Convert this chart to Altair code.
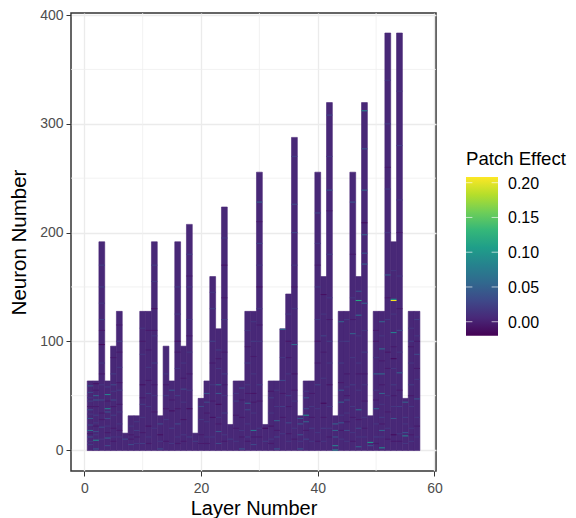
import altair as alt
import pandas as pd

# neurons per layer, layers 1..57
neuron_counts = [64, 64, 192, 64, 96, 128, 16, 32, 32, 128, 128, 192, 32, 96, 64, 192, 96, 208, 16, 48,
                 64, 160, 112, 224, 24, 64, 64, 128, 128, 256, 24, 64, 64, 112, 144, 288, 32, 64, 64, 256,
                 160, 320, 32, 128, 128, 256, 160, 320, 32, 128, 128, 384, 192, 384, 48, 128, 128]
base_value = 0.005

# (layer, neuron, effect) visible streaks
streaks = [
    (1, 59, .04), (1, 53, .03), (1, 37, .03), (1, 29, .04), (1, 23, .03), (1, 18, .06), (1, 12, .03), (1, 5, .02), (1, 45, .02),
    (2, 61, -.01), (2, 50, .05), (2, 46, .04), (2, 17, .03), (2, 9, .09), (2, 1, .04), (2, 32, .02), (2, 40, -.005),
    (3, 46, .03), (3, 21, .03), (3, 34, -.005), (3, 97, -.015), (3, 150, .02), (3, 120, .02), (3, 170, .02),
    (4, 51, .08), (4, 38, .08), (4, 35, .04), (4, 29, .03), (4, 11, .05), (4, 4, .03), (4, 58, .02),
    (5, 60, .03), (5, 46, .03), (5, 32, .02), (5, 20, -.005), (5, 70, .02), (5, 85, -.005),
    (6, 55, .02), (6, 42, -.005), (6, 24, .015), (6, 100, .02), (6, 115, -.005), (7, 10, .03), (8, 5, .03), (8, 14, -.005),
    (9, 18, .02), (10, 6, .02), (10, 60, -.01), (10, 42, .02), (11, 52, .02), (11, 22, -.01), (11, 110, -.005),
    (12, 170, .02), (12, 130, -.01), (12, 80, .02), (12, 20, .015), (13, 24, .03), (13, 14, -.012), (13, 1, .03),
    (14, 50, .02), (14, 8, -.005), (15, 55, .04), (15, 36, -.012), (15, 20, .02), (16, 24, .03), (16, 50, .02), (16, 150, .02), (16, 100, -.01),
    (17, 56, .03), (17, 28, -.008), (18, 38, -.012), (18, 12, .02), (18, 180, .02), (18, 120, .015), (19, 8, .02), (20, 40, .03), (20, 14, -.005),
    (21, 52, .04), (21, 44, .03), (21, 26, .015), (22, 100, .025), (22, 130, .02), (22, 30, -.01),
    (23, 60, .05), (23, 52, .04), (23, 42, -.012), (23, 17, .04), (23, 6, .03), (23, 92, .02),
    (24, 34, .02), (24, 170, -.01), (24, 70, .02), (25, 10, .02), (26, 20, -.005), (26, 45, .02), (27, 57, .03), (27, 1, .04), (27, 30, -.005),
    (28, 43, .05), (28, 37, .03), (28, 12, .02), (28, 80, .02), (29, 18, .07), (29, 5, .03), (29, 52, -.008), (29, 100, .02),
    (30, 228, .05), (30, 190, .025), (30, 60, .02), (30, 150, -.01), (31, 20, -.015), (31, 8, .02),
    (32, 48, .02), (32, 22, -.008), (33, 27, .05), (33, 1, .04), (33, 12, .025), (34, 64, .03), (34, 111, .06), (34, 40, .02),
    (35, 50, .02), (35, 25, .03), (35, 100, -.008), (36, 97, .06), (36, 226, .03), (36, 200, .025), (36, 70, -.008), (36, 270, .02),
    (37, 29, .04), (37, 24, .04), (37, 14, .035), (37, 1, .04), (38, 32, .09), (38, 26, .05), (38, 48, .04), (38, 38, .03), (38, 10, .025),
    (39, 20, .02), (39, 52, -.005), (40, 218, .03), (40, 150, .02), (40, 60, .025), (40, 100, -.008),
    (41, 143, -.012), (41, 43, -.015), (41, 20, .02), (41, 105, .025), (42, 239, .04), (42, 308, .03), (42, 100, .02), (42, 60, -.008), (42, 180, .02),
    (43, 24, .05), (43, 18, .05), (43, 12, .04), (43, 4, .08), (43, 0, .09), (44, 118, .05), (44, 55, .04), (44, 44, .05), (44, 25, .04), (44, 80, .02),
    (45, 46, .03), (45, 18, .03), (45, 70, -.005), (45, 100, .02), (46, 228, .04), (46, 107, .05), (46, 60, .02), (46, 180, -.005),
    (47, 146, .04), (47, 137.5, .12), (47, 124, .06), (47, 37, .06), (47, 3, .05), (47, 20, .03),
    (48, 312, .08), (48, 277, .04), (48, 239, .05), (48, 209, -.015), (48, 198, .05), (48, 181, .04), (48, 171, .05), (48, 135, .05), (48, 90, .02),
    (49, 7, .1), (49, 4, .04), (50, 70, .05), (50, 38, .05), (50, 12, .02), (50, 100, -.008),
    (51, 118, .05), (51, 93, .06), (51, 70, .06), (51, 52, .05), (51, 18, .05), (51, 2, .09), (51, 30, .02),
    (52, 161, .05), (52, 300, .02), (52, 240, .02), (52, 90, -.008), (53, 137.5, .205), (53, 138.6, .1), (53, 108, .08), (53, 84, -.015), (53, 29, .04), (53, 14, -.015), (53, 60, .02),
    (54, 71, .05), (54, 110, .03), (54, 280, .02), (54, 40, .02), (55, 44, .05), (55, 16, .04), (55, 13, .08), (55, 30, .02),
    (56, 100, .02), (56, 60, .02), (56, 20, .015), (57, 47, .04), (57, 88, .03), (57, 120, .02),
]

# fainter rows seen across the bars: (layer, neuron) slightly lighter / slightly darker than the base
faint_light = [
    (1, 48), (1, 33), (1, 8), (2, 25), (2, 14), (3, 60), (3, 10), (3, 80), (3, 135), (4, 22), (5, 12), (5, 54), (6, 12), (6, 35), (6, 76),
    (8, 22), (9, 6), (9, 26), (10, 30), (10, 88), (10, 112), (11, 12), (11, 40), (11, 76), (12, 50), (12, 105), (12, 155), (13, 8),
    (14, 28), (14, 70), (15, 6), (16, 12), (16, 75), (16, 125), (17, 14), (17, 44), (17, 80), (18, 55), (18, 90), (18, 150), (20, 28),
    (21, 12), (22, 12), (22, 60), (22, 145), (23, 30), (23, 75), (24, 14), (24, 50), (24, 120), (24, 195), (26, 8), (26, 52), (27, 18),
    (28, 24), (28, 60), (28, 110), (29, 34), (29, 70), (29, 118), (30, 20), (30, 100), (30, 130), (30, 170), (32, 10), (32, 34), (33, 40), (33, 55),
    (34, 15), (34, 85), (35, 8), (35, 70), (35, 125), (36, 20), (36, 45), (36, 130), (36, 170), (37, 8), (38, 54), (39, 8), (39, 40),
    (40, 16), (40, 38), (40, 120), (40, 190), (41, 8), (41, 66), (41, 125), (42, 20), (42, 40), (42, 80), (42, 140), (42, 270),
    (44, 10), (44, 32), (44, 100), (45, 8), (45, 34), (45, 58), (45, 120), (46, 16), (46, 40), (46, 85), (46, 140), (47, 12), (47, 55), (47, 80), (47, 105),
    (48, 12), (48, 30), (48, 60), (48, 110), (50, 24), (50, 55), (50, 85), (51, 12), (51, 42), (51, 105), (52, 20), (52, 50), (52, 120), (52, 200), (52, 340),
    (53, 40), (53, 75), (53, 125), (53, 165), (54, 15), (54, 90), (54, 160), (54, 230), (54, 330), (55, 6), (55, 24), (56, 8), (56, 40), (56, 80), (56, 112),
    (57, 12), (57, 30), (57, 65), (57, 105),
]
faint_dark = [
    (1, 40), (1, 15), (2, 55), (2, 22), (3, 28), (3, 70), (3, 110), (4, 45), (4, 16), (5, 40), (5, 8), (6, 62), (6, 18), (6, 90),
    (8, 10), (9, 12), (10, 16), (10, 48), (10, 100), (11, 6), (11, 64), (11, 92), (12, 35), (12, 60), (12, 110), (14, 38), (14, 60), (15, 46),
    (16, 6), (16, 38), (16, 90), (17, 8), (17, 66), (18, 70), (18, 105), (18, 160), (20, 6), (21, 34), (21, 6), (22, 45), (22, 80), (23, 24), (23, 84),
    (24, 8), (24, 60), (24, 90), (24, 140), (26, 32), (27, 12), (27, 46), (28, 8), (28, 52), (28, 95), (29, 12), (29, 44), (29, 86), (30, 12), (30, 45), (30, 115), (30, 210),
    (32, 6), (32, 54), (33, 18), (34, 30), (34, 52), (35, 15), (35, 40), (35, 85), (36, 10), (36, 55), (36, 150), (38, 18), (39, 30), (40, 8), (40, 80), (40, 170),
    (41, 30), (41, 90), (42, 12), (42, 120), (42, 220), (44, 18), (44, 62), (45, 26), (45, 50), (46, 8), (46, 30), (46, 120), (47, 28), (47, 70), (48, 20), (48, 45), (48, 70),
    (50, 6), (50, 46), (50, 110), (51, 24), (51, 60), (51, 82), (52, 10), (52, 35), (52, 75), (52, 140), (52, 260), (53, 8), (53, 50), (53, 95), (54, 8), (54, 55), (54, 130), (54, 200),
    (56, 14), (56, 50), (56, 95), (57, 22), (57, 75), (57, 100),
]
light_value = 0.016
dark_value = -0.005

x_major = [0, 20, 40, 60]
x_minor = [10, 30, 50]
y_major = [0, 100, 200, 300, 400]
y_minor = [50, 150, 250, 350]
legend_title = "Patch Effect"
legend_values = [0.0, 0.05, 0.10, 0.15, 0.20]
color_domain = [-0.0201, 0.2082]
viridis_stops = ["#440154", "#482878", "#3e4989", "#31688e", "#26828e", "#1f9e89", "#35b779", "#6ece58", "#b5de2b", "#fde725"]

layers = list(range(1, len(neuron_counts) + 1))
base = pd.DataFrame({
    "x0": [l - .5 for l in layers], "x1": [l + .5 for l in layers],
    "y0": [-.5] * len(layers), "y1": [n - .5 for n in neuron_counts],
    "v": [base_value] * len(layers),
})
rows = [(l, n, dark_value) for l, n in faint_dark] + [(l, n, light_value) for l, n in faint_light] + streaks
cells = pd.DataFrame({
    "x0": [s[0] - .5 for s in rows], "x1": [s[0] + .5 for s in rows],
    "y0": [s[1] - .5 for s in rows], "y1": [s[1] + .5 for s in rows],
    "v": [s[2] for s in rows],
})

xs = alt.Scale(domain=[-2.28, 60.26], nice=False, zero=False)
ys = alt.Scale(domain=[-19.3, 401.9], nice=False, zero=False)
cs = alt.Scale(scheme="viridis", domain=color_domain, nice=False)

x_axis = alt.Axis(values=x_major, title="Layer Number", grid=True, gridColor="#EBEBEB", gridWidth=1.3,
                  domain=False, tickColor="#333333", tickSize=5, labelColor="#4D4D4D", labelFontSize=14,
                  labelFont="Liberation Sans", titleFont="Liberation Sans", titleFontSize=20, titleColor="black",
                  titleFontWeight="normal", labelPadding=5, titlePadding=3, format="d")
y_axis = alt.Axis(values=y_major, title="Neuron Number", grid=True, gridColor="#EBEBEB", gridWidth=1.3,
                  domain=False, tickColor="#333333", tickSize=5, labelColor="#4D4D4D", labelFontSize=14,
                  labelFont="Liberation Sans", titleFont="Liberation Sans", titleFontSize=20.5, titleColor="black",
                  titleFontWeight="normal", labelPadding=3, titlePadding=10, format="d")


def rects(df, **kw):
    return alt.Chart(df).mark_rect(**kw).encode(
        x=alt.X("x0:Q", scale=xs, axis=x_axis), x2="x1:Q",
        y=alt.Y("y0:Q", scale=ys, axis=y_axis), y2="y1:Q",
        color=alt.Color("v:Q", scale=cs, legend=None),
    )


minor_x = alt.Chart(pd.DataFrame({"m": x_minor})).mark_rule(color="#EFEFEF", strokeWidth=0.8).encode(
    x=alt.X("m:Q", scale=xs, axis=x_axis))
minor_y = alt.Chart(pd.DataFrame({"m": y_minor})).mark_rule(color="#EFEFEF", strokeWidth=0.8).encode(
    y=alt.Y("m:Q", scale=ys, axis=y_axis))

# legend drawn with the same colour domain, so that it can carry ggplot's white inner ticks
ls = alt.Scale(domain=color_domain, range=[322.7, 164], nice=False, zero=False)
bar_df = pd.DataFrame({"t": [color_domain[0]], "t2": [color_domain[1]]})
tick_df = pd.DataFrame({"t": legend_values, "label": [f"{v:.2f}" for v in legend_values]})
gradient = alt.LinearGradient(
    gradient="linear", x1=0, x2=0, y1=1, y2=0,
    stops=[alt.GradientStop(color=c, offset=i / (len(viridis_stops) - 1)) for i, c in enumerate(viridis_stops)],
)
bar = alt.Chart(bar_df).mark_rect(color=gradient).encode(
    x=alt.value(395), x2=alt.value(427), y=alt.Y("t:Q", scale=ls, axis=None), y2="t2:Q")
tick_left = alt.Chart(tick_df).mark_rule(color="white", strokeWidth=0.8, opacity=.8).encode(
    x=alt.value(395), x2=alt.value(401.4), y=alt.Y("t:Q", scale=ls, axis=None))
tick_right = alt.Chart(tick_df).mark_rule(color="white", strokeWidth=0.8, opacity=.8).encode(
    x=alt.value(420.6), x2=alt.value(427), y=alt.Y("t:Q", scale=ls, axis=None))
labels = alt.Chart(tick_df).mark_text(align="left", baseline="middle", font="Liberation Sans", fontSize=16,
                                      color="black", dy=1).encode(
    x=alt.value(437), y=alt.Y("t:Q", scale=ls, axis=None), text="label:N")
title = alt.Chart(pd.DataFrame({"s": [legend_title]})).mark_text(
    align="left", baseline="alphabetic", font="Liberation Sans", fontSize=18.6, color="black").encode(
    x=alt.value(395), y=alt.value(151.5), text="s:N")

chart = alt.layer(
    alt.layer(minor_x, minor_y, rects(base, stroke="#482576", strokeWidth=0.6), rects(cells, strokeWidth=0)),
    alt.layer(bar, tick_left, tick_right, labels, title),
).resolve_scale(y="independent", x="shared", color="shared").properties(
    width=365, height=458,
    autosize=alt.AutoSizeParams(type="none"),
    padding={"left": 63, "top": 5, "right": 132, "bottom": 47},
).configure_view(stroke="#333333", strokeWidth=1.5)

chart.save("out.html", embed_options={"renderer": "svg", "actions": False})
